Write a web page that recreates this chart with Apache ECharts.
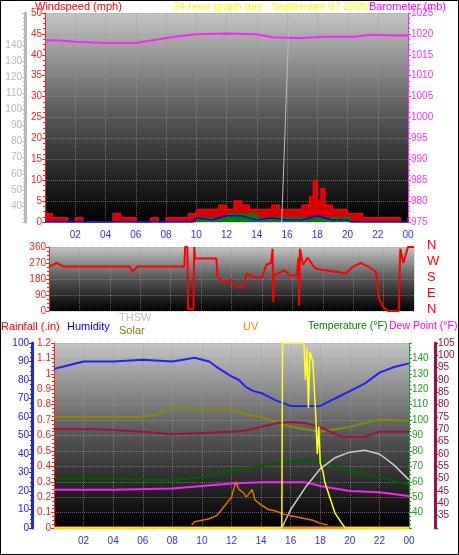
<!DOCTYPE html>
<html>
<head>
<meta charset="utf-8">
<script src="https://cdn.jsdelivr.net/npm/echarts@6/dist/echarts.min.js"></script>
<style>
body{margin:0;background:#fff}
#c{width:457px;height:553px;border:1px solid #000}
</style>
</head>
<body>
<div id="c"></div>
<script>
// top panel
var windHours = [0,0.5,1,1.5,2,2.5,3,3.5,4,4.5,5,5.5,6,6.5,7,7.5,8,8.5,9,9.5,10,10.5,11,11.5,12,12.5,13,13.5,14,14.5,15,15.5,16,16.5,17,17.5,17.75,18,18.25,18.5,19,19.5,20,20.5,21,21.5,22,22.5,23,23.5,24];
var windGust = [2,1,1,0,1,0,0,0,0,2,1,1,0,0,1,0,1,1,1,2,3,3,3,4,3,5,4,3,3,3,4,3,3,3,4,6,10,5,8,4,3,3,2,2,1,1,1,1,1,0,1];
var windAvgHours = [0,9.8,10,11,12,13,14,15,16,17,18,19,20,20.2,24];
var windAvg = [0,0,1,1,2,2,1,1,1,1,1,1,1,0,0];
var windLowHours = [0,9.8,10,11,12,13,14,15,16,17,18,19,20,20.2,24];
var windLow = [0,0,1,0.5,1.5,1.5,0.5,1,0.5,0.5,1.5,0.5,0.5,0,0];
var baroHours = [0,1,2,4,6,8,9,10,12,14,15,16,17,18.5,20.5,21.5,23,24];
var baro = [1018.5,1018.4,1018.1,1017.8,1017.8,1019,1019.5,1019.9,1020.1,1019.9,1019.2,1019.1,1019,1019.3,1019.3,1019.8,1019.6,1019.6];
var sunHours = [15.65,16.15];
var sunVal = [0,50];

// middle panel
var dirHours = [0,0.5,1,2,5.3,5.5,5.8,8.9,8.95,9.1,9.15,9.5,9.55,9.6,11,11.1,11.5,12,12.3,12.8,13,13.5,14,14.3,14.6,14.7,14.75,14.8,15,15.5,15.8,16.3,16.4,16.45,16.5,16.7,17,17.5,18,19,19.5,20,20.5,21,21.5,21.7,22,22.3,23,23.1,23.3,23.6,24];
var dirVal = [250,270,250,250,250,220,250,250,360,360,10,10,360,295,295,190,160,175,130,140,210,190,190,260,270,350,50,200,210,230,200,200,300,30,350,260,300,240,230,220,210,250,270,250,220,70,20,0,0,350,270,360,360];

// bottom panel
var humHours = [0,1,2,4,6,8,9.5,10.5,11,12,12.5,13,13.5,14,15,16,17,18,18.5,19,20,21,22,23,24];
var humVal = [86,88,90,90,91,90,92,90,87,82,80,76,74,73,69,66,66,66,68,70,74,78,84,87,89];
var tempHours = [0,4,8,10,12,13,14,15,16,17,18,19,20,22,24];
var tempVal = [62,62,61,63,67,69,70,72,73,74,73,70,67,63,58];
var dewHours = [0,4,8,10,12,14,16,17,18,20,22,24];
var dewVal = [45.5,45.5,46,47,48,48.5,48.5,48.5,47,45,44.5,43];
var heatHours = [0,3,6,8,10,12,13,14,15,16,17,18,18.5,19.5,21,22,24];
var heatVal = [70,70,69,68,68.5,69,69.5,71,72.5,73,72.5,71,69.5,67,67,69,69];
var solarHours = [0,6,7,8,10,12,13,14,15,16,17,18,19,20,22,24];
var solarVal = [75,75,76,79,78,78,76,75,73,71,70,69,70,71,74,73.5];
var thswHours = [15.4,16,17,18,19,20,21,22,23,24];
var thswVal = [0,10,22,32,38,41,42,40,34,26];
var yelHours = [0,15.4,15.45,16.9,17,17.1,17.2,17.3,17.5,17.7,17.8,17.9,18,18.2,18.3,19,19.5,19.7,24];
var yelVal = [0,0,100,100,80,97,65,95,90,60,40,55,35,30,25,8,2,0,0];
var uvHours = [9.3,9.5,10,10.5,11,11.5,12,12.3,12.5,12.8,13,13.4,13.6,14,14.5,15,15.5,16,17,17.5,18,18.5];
var uvVal = [0.02,0.04,0.05,0.06,0.08,0.14,0.2,0.3,0.25,0.23,0.2,0.25,0.18,0.15,0.12,0.11,0.09,0.08,0.06,0.05,0.03,0.02];
var rainHours = [0,15.4,19.6,24];
var rainVal = [0,0,0,0];

function zip(h, v) { return h.map(function (x, i) { return [x, v[i]]; }); }
function pad(v) { v = v % 24; return (v < 10 ? '0' : '') + v; }

var myChart = echarts.init(document.getElementById('c'));
var bg = new echarts.graphic.LinearGradient(0, 0, 0, 1, [
	{offset: 0, color: '#c4c4c4'},
	{offset: 0.5, color: '#555'},
	{offset: 1, color: '#000'}
]);
var split = {show: true, lineStyle: {color: '#999', type: 'dotted', opacity: 0.6}};
var font = 'Liberation Sans';
function xax(idx, labels) {
	return {
		type: 'value', gridIndex: idx, min: 0, max: 24, interval: 2,
		axisLine: {show: false}, axisTick: {show: false},
		splitLine: split,
		axisLabel: {show: labels, color: '#3030ff', fontSize: 10, fontFamily: font,
			formatter: function (v) { return v > 0 ? pad(v) : ''; }}
	};
}
function yax(idx, o) {
	var c = o.color;
	return {
		type: 'value', gridIndex: idx, min: o.min, max: o.max, interval: o.interval,
		position: o.pos, offset: o.offset || 0,
		axisLine: {show: true, lineStyle: {color: c, width: o.lw || 1}},
		axisTick: {show: true, length: 3, lineStyle: {color: c}},
		minorTick: {show: true, splitNumber: 4, length: 2, lineStyle: {color: c}},
		splitLine: o.split ? split : {show: false},
		axisLabel: {color: c, fontSize: 10, fontFamily: font, margin: 3,
			formatter: o.fmt || function (v) { return String(v); }}
	};
}
function label(x, y, text, color, size) {
	return {type: 'text', left: x, top: y, style: {text: text, fill: color, fontSize: size || 11, fontFamily: font}};
}

var option = {
	animation: false,
	textStyle: {fontFamily: font},
	grid: [
		{left: 44, right: 50, top: 12, height: 209, show: true, backgroundColor: bg, borderWidth: 0},
		{left: 48, right: 44, top: 246, height: 64, show: true, backgroundColor: bg, borderWidth: 0},
		{left: 53, right: 49, top: 342, height: 185, show: true, backgroundColor: bg, borderWidth: 0}
	],
	xAxis: [xax(0, true), xax(1, false), xax(2, true)],
	yAxis: [
		yax(0, {min: 0, max: 50, interval: 5, pos: 'left', color: '#ff2020', split: true}),
		yax(0, {min: 30, max: 160, interval: 10, pos: 'left', offset: 20, color: '#b8b8b8', lw: 3,
			fmt: function (v) { return v >= 40 && v <= 140 ? String(v) : ''; }}),
		yax(0, {min: 975, max: 1025, interval: 5, pos: 'right', color: '#ff30ff'}),
		yax(1, {min: 0, max: 360, interval: 90, pos: 'left', color: '#ff2020', split: true}),
		yax(2, {min: 0, max: 1.2, interval: 0.1, pos: 'left', color: '#ff2020', split: true,
			fmt: function (v) { return String(+v.toFixed(1)); }}),
		yax(2, {min: 0, max: 100, interval: 10, pos: 'left', offset: 22, color: '#2020ff', lw: 3}),
		yax(2, {min: 30, max: 150, interval: 10, pos: 'right', color: '#20a020',
			fmt: function (v) { return v >= 40 && v <= 140 ? String(v) : ''; }}),
		yax(2, {min: 30, max: 105, interval: 5, pos: 'right', offset: 26, color: '#a0103a', lw: 3,
			fmt: function (v) { return v >= 35 ? String(v) : ''; }})
	],
	series: [
		{type: 'line', xAxisIndex: 0, yAxisIndex: 0, step: 'end', symbol: 'none', data: zip(windHours, windGust),
			lineStyle: {color: '#ff0000', width: 1.5}, areaStyle: {color: '#ee0000', opacity: 0.9}},
		{type: 'line', xAxisIndex: 0, yAxisIndex: 0, step: 'end', symbol: 'none', data: zip(windAvgHours, windAvg),
			lineStyle: {color: '#008000', width: 1}, areaStyle: {color: '#008000', opacity: 1}},
		{type: 'line', xAxisIndex: 0, yAxisIndex: 0, symbol: 'none', data: zip(windLowHours, windLow),
			lineStyle: {color: '#0000ff', width: 1.5}},
		{type: 'line', xAxisIndex: 0, yAxisIndex: 0, symbol: 'none', data: zip(sunHours, sunVal),
			lineStyle: {color: '#bbbbbb', width: 1}},
		{type: 'line', xAxisIndex: 0, yAxisIndex: 2, symbol: 'none', data: zip(baroHours, baro),
			lineStyle: {color: '#ff20ff', width: 2}},
		{type: 'line', xAxisIndex: 1, yAxisIndex: 3, symbol: 'none', data: zip(dirHours, dirVal),
			lineStyle: {color: '#ff0000', width: 2}},
		{type: 'line', xAxisIndex: 2, yAxisIndex: 5, symbol: 'none', data: zip(humHours, humVal),
			lineStyle: {color: '#2020ff', width: 2}},
		{type: 'line', xAxisIndex: 2, yAxisIndex: 7, symbol: 'none', data: zip(solarHours, solarVal),
			lineStyle: {color: '#8a8a00', width: 2}},
		{type: 'line', xAxisIndex: 2, yAxisIndex: 7, symbol: 'none', data: zip(heatHours, heatVal),
			lineStyle: {color: '#a01040', width: 2}},
		{type: 'line', xAxisIndex: 2, yAxisIndex: 6, symbol: 'none', data: zip(tempHours, tempVal),
			lineStyle: {color: '#006000', width: 2}},
		{type: 'line', xAxisIndex: 2, yAxisIndex: 7, symbol: 'none', data: zip(dewHours, dewVal),
			lineStyle: {color: '#ff20ff', width: 2}},
		{type: 'line', xAxisIndex: 2, yAxisIndex: 5, symbol: 'none', data: zip(thswHours, thswVal),
			lineStyle: {color: '#cccccc', width: 1.5}},
		{type: 'line', xAxisIndex: 2, yAxisIndex: 4, symbol: 'none', data: zip(uvHours, uvVal),
			lineStyle: {color: '#e07000', width: 1.5}},
		{type: 'line', xAxisIndex: 2, yAxisIndex: 4, symbol: 'none', data: zip(rainHours, rainVal),
			lineStyle: {color: '#ffa000', width: 3}},
		{type: 'line', xAxisIndex: 2, yAxisIndex: 5, symbol: 'none', data: zip(yelHours, yelVal),
			lineStyle: {color: '#ffff20', width: 1.5}}
	],
	graphic: [
		label(34, 0, 'Windspeed (mph)', '#ff0000'),
		label(172, 0, '24 hour graph day : September 07 2025', '#ffff00'),
		label(368, 0, 'Barometer (mb)', '#ff00ff'),
		label(426, 238, 'N', '#ff0000', 13),
		label(426, 254, 'W', '#ff0000', 13),
		label(426, 270, 'S', '#ff0000', 13),
		label(426, 286, 'E', '#ff0000', 13),
		label(426, 302, 'N', '#ff0000', 13),
		label(0, 320, 'Rainfall (.in)', '#ff0000'),
		label(66, 320, 'Humidity', '#0000ff'),
		label(118, 311, 'THSW', '#c0c0c0'),
		label(118, 324, 'Solar', '#808000'),
		label(242, 320, 'UV', '#ff8000'),
		label(307, 320, 'Temperature (°F)', '#008000', 10.5),
		label(388, 320, 'Dew Point (°F)', '#ff00ff', 10.5)
	]
};
myChart.setOption(option);
</script>
</body>
</html>
